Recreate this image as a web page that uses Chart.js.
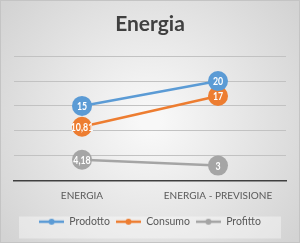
<!DOCTYPE html>
<html>
<head>
<meta charset="utf-8">
<script src="https://cdn.jsdelivr.net/npm/chart.js@4"></script>
<style>
  html, body { margin: 0; padding: 0; background: #fff; }
  #wrap { width: 300px; height: 243px; }
</style>
</head>
<body>
<div id="wrap"><canvas id="energia" width="300" height="243"></canvas></div>
<script>
const categories = ["ENERGIA", "ENERGIA - PREVISIONE"]
const prodotto = [15, 20]
const consumo = [10.81, 17]
const profitto = [4.18, 3]
const seriesNames = ["Prodotto", "Consumo", "Profitto"]
const colors = ["#5B9BD5", "#ED7D31", "#A5A5A5"]

// little line + dot marker for the legend
function legendMark(color) {
    let c = document.createElement("canvas")
    c.width = 25
    c.height = 8
    let g = c.getContext("2d")
    g.strokeStyle = color
    g.lineWidth = 2.5
    g.beginPath()
    g.moveTo(0, 4)
    g.lineTo(25, 4)
    g.stroke()
    g.fillStyle = color
    g.beginPath()
    g.arc(12.5, 4, 3, 0, Math.PI * 2)
    g.fill()
    return c
}
const marks = colors.map(legendMark)

const background = {
    id: "background",
    beforeDraw(chart) {
        let ctx = chart.ctx
        let w = chart.width, h = chart.height
        ctx.save()
        let grad = ctx.createRadialGradient(w / 2, h / 2, 10, w / 2, h / 2, w * 0.62)
        grad.addColorStop(0, "#f8f8f8")
        grad.addColorStop(1, "#d3d3d3")
        ctx.fillStyle = grad
        ctx.fillRect(0, 0, w, h)
        ctx.strokeStyle = "#c4c4c4"
        ctx.lineWidth = 1
        ctx.strokeRect(0.5, 0.5, w - 1, h - 1)
        // legend panel
        let lg = chart.legend
        ctx.fillStyle = "rgba(255,255,255,0.38)"
        ctx.fillRect(19, lg.top + 6, w - 38, 22)
        ctx.restore()
    }
}

const valueLabels = {
    id: "valueLabels",
    afterDatasetsDraw(chart) {
        let ctx = chart.ctx
        ctx.save()
        ctx.font = "bold 11px Lato"
        ctx.fillStyle = "#ffffff"
        ctx.textAlign = "center"
        ctx.textBaseline = "middle"
        chart.data.datasets.forEach((ds, i) => {
            chart.getDatasetMeta(i).data.forEach((pt, j) => {
                let txt = String(ds.data[j]).replace(".", ",")
                ctx.save()
                ctx.translate(pt.x, pt.y + 0.5)
                ctx.scale(0.8, 1)
                ctx.fillText(txt, 0, 0)
                ctx.restore()
            })
        })
        ctx.restore()
    }
}

function makeSet(label, data, color) {
    return {
        label: label,
        data: data,
        borderColor: color,
        backgroundColor: color,
        borderWidth: 2.5,
        pointRadius: 10,
        pointHoverRadius: 10,
        pointBorderWidth: 0,
        tension: 0
    }
}

const ctx = document.getElementById("energia")
const config = {
    type: "line",
    data: {
        labels: categories,
        datasets: [
            makeSet(seriesNames[0], prodotto, colors[0]),
            makeSet(seriesNames[1], consumo, colors[1]),
            makeSet(seriesNames[2], profitto, colors[2])
        ]
    },
    options: {
        responsive: false,
        animation: false,
        layout: { padding: { left: 14, right: 14, top: 4, bottom: 6 } },
        scales: {
            x: {
                offset: true,
                grid: { display: false, drawTicks: false },
                border: { display: true, color: "#404040", width: 1.5 },
                ticks: { color: "#595959", font: { family: "Lato", size: 10 }, padding: 9 }
            },
            y: {
                min: 0,
                max: 25,
                ticks: { display: false, stepSize: 5 },
                grid: { color: "#c2c2c2", lineWidth: 1, drawTicks: false },
                border: { display: false }
            }
        },
        plugins: {
            title: {
                display: true,
                text: "Energia",
                color: "#404040",
                font: { family: "Lato", size: 21, weight: "bold" },
                padding: { top: 8, bottom: 19 }
            },
            legend: {
                position: "bottom",
                labels: {
                    usePointStyle: true,
                    pointStyleWidth: 25,
                    color: "#595959",
                    font: { family: "Lato", size: 10.5 },
                    padding: 6,
                    generateLabels(chart) {
                        return chart.data.datasets.map((ds, i) => ({
                            text: ds.label,
                            pointStyle: marks[i],
                            fillStyle: colors[i],
                            strokeStyle: colors[i],
                            lineWidth: 0,
                            fontColor: "#595959",
                            datasetIndex: i,
                            hidden: false
                        }))
                    }
                }
            },
            tooltip: { enabled: false }
        }
    },
    plugins: [background, valueLabels]
}
let chart = new Chart(ctx, config)
</script>
</body>
</html>
